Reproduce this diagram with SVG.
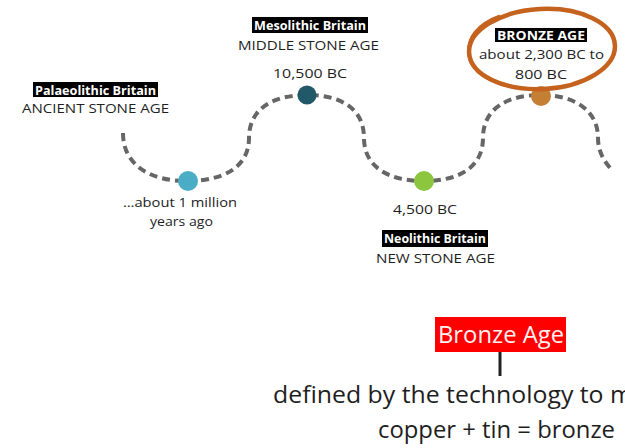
<svg xmlns="http://www.w3.org/2000/svg" width="625" height="448" viewBox="0 0 625 448">
<style>
.t{font-family:"Open Sans","Liberation Sans",sans-serif;fill:#1e1e1e;text-anchor:middle;font-size:13.5px}
.lb{font-family:"Open Sans","Liberation Sans",sans-serif;fill:#fff;text-anchor:middle;font-size:12.5px;font-weight:bold}
.bg{fill:#000}
.big{font-family:"Open Sans","Liberation Sans",sans-serif;fill:#1e1e1e;font-size:23px}
.wave{fill:none;stroke:#666;stroke-width:4;stroke-dasharray:8 5}
</style>
<rect width="625" height="448" fill="#fff"/>
<g id="connectors">
<path class="wave" d="M123,133 C123,165 150,181 187,181 C222,181 249,168 249,138 C249,108 274,95 307,95 C340,95 364,108 364,138 C364,168 390,181 424,181 C458,181 483,168 483,138 C483,108 508,95 541,95 C574,95 598,110 598,138 C598,150 603,160 611,169"/>
<line x1="500" y1="352" x2="500" y2="376" stroke="#222" stroke-width="3"/>
</g>
<g id="palaeolithic">
<circle cx="188" cy="181" r="10" fill="#4BACC6"/>
<rect class="bg" x="33" y="82" width="125" height="15"/>
<text class="lb" x="95.5" y="94.5" textLength="121" lengthAdjust="spacingAndGlyphs">Palaeolithic Britain</text>
<text class="t" x="95.5" y="113" textLength="147" lengthAdjust="spacingAndGlyphs">ANCIENT STONE AGE</text>
<text class="t" x="180" y="207" textLength="114" lengthAdjust="spacingAndGlyphs">…about 1 million</text>
<text class="t" x="181.5" y="226" textLength="63" lengthAdjust="spacingAndGlyphs">years ago</text>
</g>
<g id="mesolithic">
<circle cx="307" cy="95" r="9.5" fill="#215968"/>
<rect class="bg" x="252" y="17" width="116" height="16"/>
<text class="lb" x="310" y="29.5" textLength="112" lengthAdjust="spacingAndGlyphs">Mesolithic Britain</text>
<text class="t" x="308.5" y="50" textLength="141" lengthAdjust="spacingAndGlyphs">MIDDLE STONE AGE</text>
<text class="t" x="310" y="78" font-size="15" textLength="74" lengthAdjust="spacingAndGlyphs">10,500 BC</text>
</g>
<g id="neolithic">
<circle cx="424" cy="181" r="10" fill="#8CC63F"/>
<text class="t" x="425" y="214" font-size="15" textLength="64" lengthAdjust="spacingAndGlyphs">4,500 BC</text>
<rect class="bg" x="382" y="230" width="106" height="17"/>
<text class="lb" x="435" y="242.5" textLength="102" lengthAdjust="spacingAndGlyphs">Neolithic Britain</text>
<text class="t" x="435.5" y="263" textLength="119" lengthAdjust="spacingAndGlyphs">NEW STONE AGE</text>
</g>
<g id="bronze">
<circle cx="541" cy="96" r="10" fill="#C47F35"/>
<ellipse cx="542" cy="49" rx="73" ry="40" fill="none" stroke="#C4621E" stroke-width="4.5" transform="rotate(-3 542 49)"/>
<path d="M500,16 C478,24 466,38 469,56 C472,72 490,84 520,88" fill="none" stroke="#C4621E" stroke-width="3"/>
<rect class="bg" x="495" y="28" width="92" height="14"/>
<text class="lb" x="541" y="40" font-weight="normal" textLength="88" lengthAdjust="spacingAndGlyphs">BRONZE AGE</text>
<text class="t" x="541.5" y="59" textLength="125" lengthAdjust="spacingAndGlyphs">about 2,300 BC to</text>
<text class="t" x="541" y="79" font-size="15" textLength="52" lengthAdjust="spacingAndGlyphs">800 BC</text>
</g>
<g id="bronze-age-box">
<rect x="435" y="317" width="131" height="35" fill="#FF0000"/>
<text x="501" y="343" font-family="'Open Sans','Liberation Sans',sans-serif" font-size="24" fill="#FFF2F2" text-anchor="middle" textLength="126" lengthAdjust="spacingAndGlyphs">Bronze Age</text>
</g>
<g id="definition">
<text class="big" x="273" y="403" textLength="360" lengthAdjust="spacingAndGlyphs">defined by the technology to m</text>
<text class="big" x="378" y="438" textLength="237" lengthAdjust="spacingAndGlyphs">copper + tin = bronze</text>
</g>
</svg>
